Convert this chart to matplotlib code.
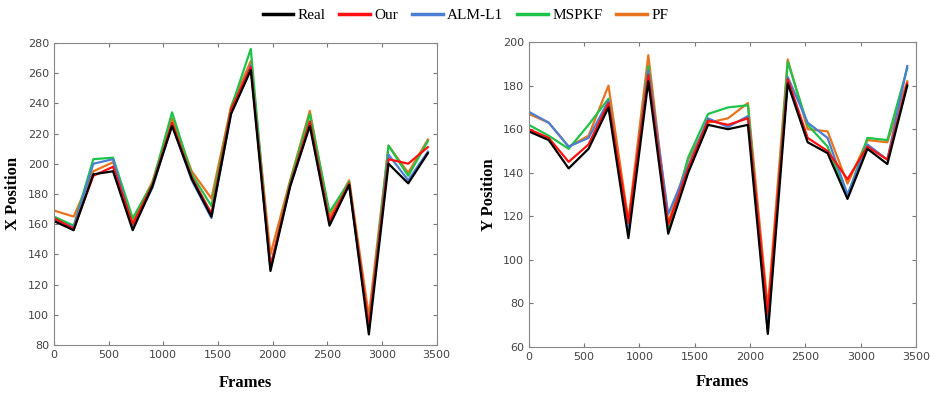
import numpy as np
import matplotlib
matplotlib.use('Agg')
import matplotlib.pyplot as plt

frames = [0, 180, 360, 540, 720, 900, 1080, 1260, 1440, 1620,
          1800, 1980, 2160, 2340, 2520, 2700, 2880, 3060, 3240, 3420]

methods = ['Real', 'Our', 'ALM-L1', 'MSPKF', 'PF']
colors = ['#000000', '#ff1010', '#4a7fd4', '#1ec44a', '#e8741e']

# X position per method
x_real  = [162, 156, 193, 195, 156, 185, 225, 190, 165, 233, 262, 129, 185, 225, 159, 186, 87, 200, 187, 207]
x_our   = [164, 157, 192, 198, 160, 186, 227, 191, 167, 236, 264, 132, 186, 228, 162, 187, 92, 203, 200, 211]
x_alm   = [163, 158, 200, 203, 158, 184, 226, 189, 164, 234, 265, 131, 185, 226, 161, 186, 91, 206, 189, 208]
x_mspkf = [165, 159, 203, 204, 164, 187, 234, 193, 172, 237, 276, 131, 188, 233, 168, 188, 91, 212, 192, 215]
x_pf    = [169, 165, 195, 201, 162, 188, 230, 195, 177, 238, 268, 140, 189, 235, 165, 189, 99, 212, 194, 216]

# Y position per method
y_real  = [159, 155, 142, 151, 170, 110, 182, 112, 140, 162, 160, 162, 66, 181, 154, 149, 128, 151, 144, 180]
y_our   = [160, 156, 145, 153, 172, 117, 185, 116, 142, 164, 162, 165, 75, 183, 156, 150, 137, 152, 146, 181]
y_alm   = [168, 163, 152, 156, 173, 114, 187, 121, 143, 165, 161, 166, 72, 184, 163, 156, 130, 153, 146, 189]
y_mspkf = [162, 157, 151, 162, 174, 113, 189, 113, 147, 167, 170, 171, 67, 191, 162, 152, 129, 156, 155, 188]
y_pf    = [167, 163, 152, 157, 180, 118, 194, 117, 146, 163, 165, 172, 78, 192, 160, 159, 135, 155, 154, 182]

x_series = [x_real, x_our, x_alm, x_mspkf, x_pf]
y_series = [y_real, y_our, y_alm, y_mspkf, y_pf]

fig = plt.figure(figsize=(9.31, 3.97), dpi=100)
ax1 = fig.add_axes([0.058, 0.131, 0.411, 0.761])
ax2 = fig.add_axes([0.568, 0.126, 0.416, 0.768])

# draw reference last so it sits on top
order = [4, 3, 2, 1, 0]
for ax, series in [(ax1, x_series), (ax2, y_series)]:
    for i in order:
        ax.plot(frames, series[i], color=colors[i], linewidth=1.6, label=methods[i])
    ax.set_xlim(0, 3500)
    ax.set_xticks(np.arange(0, 3501, 500))
    ax.tick_params(direction='in', top=True, right=True, labelsize=8,
                   labelcolor='#444444', color='#777777', length=3)
    for s in ax.spines.values():
        s.set_color('#888888')

ax1.set_xlabel('Frames', family='Liberation Serif', fontweight='bold', fontsize=12, labelpad=11)
ax2.set_xlabel('Frames', family='Liberation Serif', fontweight='bold', fontsize=12, labelpad=9)

ax1.set_ylim(80, 280)
ax1.set_yticks(np.arange(80, 281, 20))
ax1.set_ylabel('X Position', family='Liberation Serif', fontweight='bold', fontsize=12, labelpad=5)
ax2.set_ylim(60, 200)
ax2.set_yticks(np.arange(60, 201, 20))
ax2.set_ylabel('Y Position', family='Liberation Serif', fontweight='bold', fontsize=12, labelpad=4)

handles = [plt.Line2D([0], [0], color=c, linewidth=2.5) for c in colors]
fig.legend(handles, methods, loc='center', bbox_to_anchor=(0.5, 0.962), ncol=5,
           frameon=False, prop={'family': 'Liberation Serif', 'size': 11},
           handlelength=2.0, handletextpad=0.3, columnspacing=0.9)

plt.savefig('out.png', dpi=100)
